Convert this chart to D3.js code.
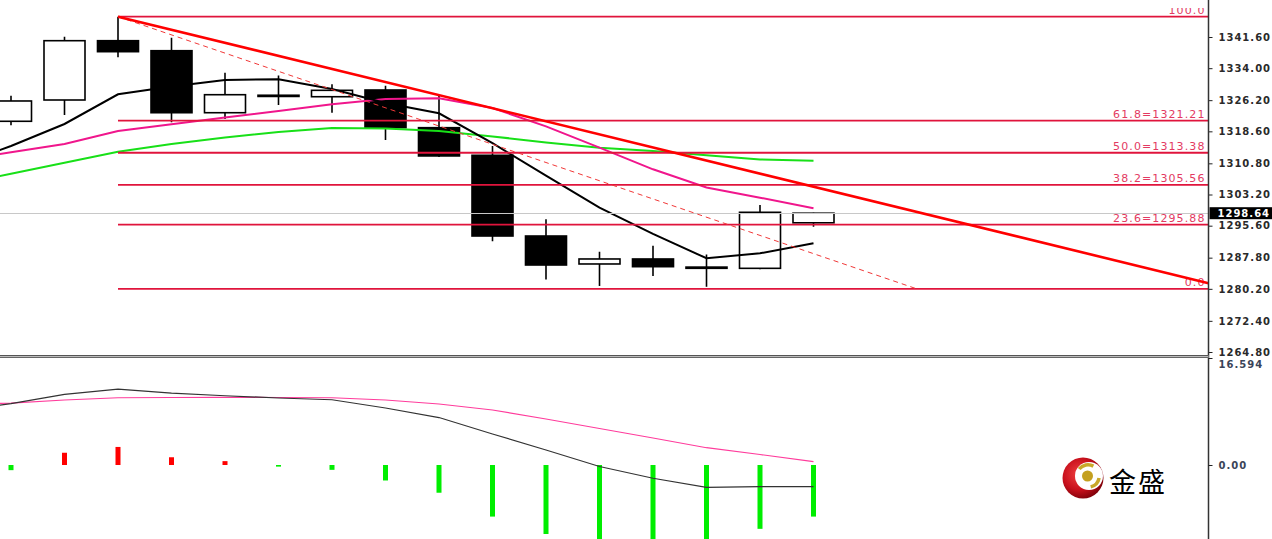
<!DOCTYPE html>
<html><head><meta charset="utf-8">
<script src="https://cdn.jsdelivr.net/npm/d3@7"></script>
<style>html,body{margin:0;padding:0;background:#fff;overflow:hidden}</style>
</head><body><svg id="c" width="1272" height="539"></svg>
<script>
// ---------- data ----------
const bars = ["K1","K2","K3","K4","K5","K6","K7","K8","K9","K10","K11","K12","K13","K14","K15","K16"];
const openV  = [1321.05,1326.24,1340.70,1338.26,1323.14,1327.40,1327.04,1328.68,1319.49,1312.76,1293.08,1286.26,1287.48,1285.50,1285.20,1296.30];
const highV  = [1327.30,1341.67,1346.56,1341.43,1332.90,1332.20,1330.07,1329.73,1327.20,1315.03,1297.15,1289.26,1290.70,1288.60,1300.64,1298.76];
const lowV   = [1320.10,1322.58,1336.65,1320.80,1321.60,1325.00,1323.14,1316.49,1312.35,1291.79,1282.50,1280.90,1283.30,1280.70,1284.96,1295.35];
const closeV = [1326.00,1340.70,1338.02,1323.14,1327.53,1327.20,1328.60,1319.49,1312.60,1293.08,1286.01,1287.48,1285.60,1285.30,1298.86,1298.64];
// moving averages: first value belongs to the bar just left of the visible area
const maFastV = [1310.30,1315.03,1320.39,1327.63,1329.53,1331.12,1331.29,1328.92,1325.51,1323.00,1315.71,1307.78,1299.98,1293.62,1287.65,1288.86,1291.30];
const maMidV  = [1311.50,1313.49,1315.51,1318.68,1320.32,1321.95,1323.58,1325.22,1326.48,1326.65,1324.29,1319.80,1314.63,1309.34,1304.91,1302.42,1299.84];
const maSlowV = [1305.54,1308.27,1310.95,1313.64,1315.51,1317.10,1318.44,1319.41,1319.29,1318.68,1317.37,1315.88,1314.61,1313.81,1312.78,1311.73,1311.44];
const priceTicks = [1341.60,1334.00,1326.20,1318.60,1310.80,1303.20,1295.60,1287.80,1280.20,1272.40,1264.80];
const fibLevels = [100, 61.8, 50.0, 38.2, 23.6, 0];
const fibLabels = ["100.0","61.8=1321.21","50.0=1313.38","38.2=1305.56","23.6=1295.88","0.0"];
const fibHigh = 1346.56, fibLow = 1280.20;
const fibBars = [2, 16.93];
const trendBars = [2, 8];
const trendValues = [1346.56, 1327.43];
const lastPrice = 1298.64;
const macdHist = [-0.8,1.9,2.8,1.2,0.6,-0.25,-0.75,-2.4,-4.3,-8.0,-10.7,-11.8,-12.5,-12.3,-9.9,-8.0];
const macdDif = [8.38,9.53,10.96,11.78,11.16,10.74,10.39,10.12,8.84,7.36,4.81,2.33,-0.23,-2.06,-3.46,-3.36,-3.36];
const macdDea = [9.38,9.61,10.08,10.43,10.47,10.50,10.47,10.43,10.08,9.46,8.53,7.13,5.66,4.19,2.68,1.63,0.51];
const macdTicks = [16.594, 0];
const macdTickLabels = ["16.594","0.00"];
const brand = "金盛";

// ---------- layout ----------
const svg = d3.select("#c");
const W = 1272, H = 539, axisX = 1208.5;
const mainTop = 8, mainBottom = 355, lowTop = 358;
const x = d3.scaleLinear().domain([0, 15]).range([11, 813.5]);
const y = d3.scaleLinear().domain([1264.8, 1341.6]).range([352, 37]);
const yl = d3.scaleLinear().domain([0, 16.594]).range([465, 358]);
const bodyW = 41;

svg.append("rect").attr("width", W).attr("height", H).attr("fill", "#fff");
const defs = svg.append("defs");
defs.append("clipPath").attr("id","cm").append("rect").attr("x",0).attr("y",mainTop).attr("width",axisX).attr("height",mainBottom-mainTop);
defs.append("clipPath").attr("id","cl").append("rect").attr("x",0).attr("y",lowTop).attr("width",axisX).attr("height",H-lowTop);

const gm = svg.append("g").attr("clip-path","url(#cm)");

// candles
const cd = bars.map((b,i)=>({i, o:openV[i], h:highV[i], l:lowV[i], c:closeV[i]}));
gm.selectAll("line.wick").data(cd).join("line")
  .attr("x1",d=>x(d.i)).attr("x2",d=>x(d.i))
  .attr("y1",d=>y(d.h)).attr("y2",d=>y(d.l))
  .attr("stroke","#000").attr("stroke-width",1.6);
gm.selectAll("rect.body").data(cd).join("rect")
  .attr("x",d=>x(d.i)-bodyW/2)
  .attr("y",d=>y(Math.max(d.o,d.c)))
  .attr("width",bodyW)
  .attr("height",d=>Math.max(1.2, Math.abs(y(d.o)-y(d.c))))
  .attr("fill",d=>d.c>=d.o ? "#fff" : "#000")
  .attr("stroke","#000").attr("stroke-width",1.6);

// moving averages
const maLine = d3.line().x((d,k)=>x(k-1)).y(d=>y(d));
gm.append("path").attr("d",maLine(maSlowV)).attr("fill","none").attr("stroke","#18e018").attr("stroke-width",2);
gm.append("path").attr("d",maLine(maMidV)).attr("fill","none").attr("stroke","#f0168c").attr("stroke-width",2);
gm.append("path").attr("d",maLine(maFastV)).attr("fill","none").attr("stroke","#000").attr("stroke-width",2);

// bid line
gm.append("line").attr("x1",0).attr("x2",axisX).attr("y1",Math.round(y(lastPrice))+0.5).attr("y2",Math.round(y(lastPrice))+0.5)
  .attr("stroke","#c8c8c8").attr("stroke-width",1);

// fibonacci
const fibVal = p => fibLow + (fibHigh - fibLow) * p / 100;
gm.selectAll("line.fib").data(fibLevels).join("line")
  .attr("x1",x(fibBars[0])).attr("x2",axisX)
  .attr("y1",d=>y(fibVal(d))).attr("y2",d=>y(fibVal(d)))
  .attr("stroke","#e0143c").attr("stroke-width",1.8);
gm.selectAll("text.fib").data(fibLevels).join("text")
  .attr("x",axisX-3).attr("y",d=>y(fibVal(d))-3)
  .attr("text-anchor","end")
  .attr("font-family","DejaVu Sans, Verdana, sans-serif").attr("font-size",11)
  .attr("letter-spacing",1.1)
  .attr("fill","#e33a62")
  .text((d,k)=>fibLabels[k]);
gm.append("line")
  .attr("x1",x(fibBars[0])).attr("y1",y(fibHigh))
  .attr("x2",x(fibBars[1])).attr("y2",y(fibLow))
  .attr("stroke","#f03838").attr("stroke-width",1).attr("stroke-dasharray","5,4");

// trend line (ray to the right edge)
const slope = (trendValues[1]-trendValues[0])/(trendBars[1]-trendBars[0]);
const endBar = x.invert(axisX);
gm.append("line")
  .attr("x1",x(trendBars[0])).attr("y1",y(trendValues[0]))
  .attr("x2",x(endBar)).attr("y2",y(trendValues[0]+slope*(endBar-trendBars[0])))
  .attr("stroke","#ff0000").attr("stroke-width",2.6);

// price axis
const ax = d3.axisRight(y).tickValues(priceTicks).tickFormat(d3.format(".2f")).tickSize(4).tickPadding(6);
const ga = svg.append("g").attr("transform",`translate(${axisX},0)`).call(ax);
ga.select(".domain").remove();
ga.selectAll("line").attr("stroke","#222");
ga.selectAll("text").attr("font-family","DejaVu Sans, Verdana, sans-serif").attr("font-size",10).attr("font-weight","bold")
  .attr("letter-spacing",1).attr("fill","#2a2a2a");

// current price tag
const py = y(lastPrice);
svg.append("rect").attr("x",axisX+1).attr("y",py-6).attr("width",W-axisX).attr("height",12).attr("fill","#000");
svg.append("text").attr("x",axisX+9).attr("y",py).attr("dy","0.35em")
  .attr("font-family","DejaVu Sans, Verdana, sans-serif").attr("font-size",10).attr("font-weight","bold")
  .attr("letter-spacing",1).attr("fill","#fff").text(d3.format(".2f")(lastPrice));

// axis line & separator
svg.append("line").attr("x1",axisX).attr("x2",axisX).attr("y1",0).attr("y2",H).attr("stroke","#333").attr("stroke-width",1.5);
svg.append("rect").attr("x",0).attr("y",mainBottom).attr("width",axisX).attr("height",3).attr("fill","#bbb");
svg.append("line").attr("x1",0).attr("x2",axisX).attr("y1",mainBottom+0.5).attr("y2",mainBottom+0.5).attr("stroke","#555");
svg.append("line").attr("x1",0).attr("x2",axisX).attr("y1",mainBottom+2.5).attr("y2",mainBottom+2.5).attr("stroke","#666");

// ---------- MACD panel ----------
const gl = svg.append("g").attr("clip-path","url(#cl)");
gl.selectAll("rect.h").data(macdHist).join("rect")
  .attr("x",(d,i)=>x(i)-2.5).attr("width",5)
  .attr("y",d=>d>=0 ? yl(d) : yl(0))
  .attr("height",d=>Math.abs(yl(d)-yl(0)))
  .attr("fill",d=>d>=0 ? "#ff0000" : "#00ee00");
const ml = d3.line().x((d,k)=>x(k-1)).y(d=>yl(d));
gl.append("path").attr("d",ml(macdDea)).attr("fill","none").attr("stroke","#ff3c9c").attr("stroke-width",1.2);
gl.append("path").attr("d",ml(macdDif)).attr("fill","none").attr("stroke","#333").attr("stroke-width",1.2);

const al = d3.axisRight(yl).tickValues(macdTicks).tickFormat((d,k)=>macdTickLabels[k]).tickSize(4).tickPadding(6);
const gal = svg.append("g").attr("transform",`translate(${axisX},0)`).call(al);
gal.select(".domain").remove();
gal.selectAll("line").attr("stroke","#222");
gal.selectAll("text").attr("font-family","DejaVu Sans, Verdana, sans-serif").attr("font-size",10).attr("font-weight","bold")
  .attr("letter-spacing",1).attr("fill","#3a4458");
gal.selectAll("text").filter(d=>d===16.594).attr("dy","0.9em");

// ---------- logo ----------
const rg = defs.append("radialGradient").attr("id","rg").attr("cx","0.4").attr("cy","0.4").attr("r","0.65");
rg.append("stop").attr("offset","0").attr("stop-color","#f04040");
rg.append("stop").attr("offset","0.6").attr("stop-color","#c8101c");
rg.append("stop").attr("offset","1").attr("stop-color","#7a0008");
const lg = svg.append("g").attr("transform","translate(1083,478)");
lg.append("circle").attr("r",20.5).attr("fill","url(#rg)");
lg.append("circle").attr("cx",6).attr("cy",-2).attr("r",14).attr("fill","#fff");
const arc = d3.arc().innerRadius(9.5).outerRadius(13);
lg.append("path").attr("transform","translate(5,-2)").attr("d",arc({startAngle:-0.9,endAngle:0.5})).attr("fill","#c9a82a");
lg.append("path").attr("transform","translate(5,-2)").attr("d",arc({startAngle:1.75,endAngle:2.9})).attr("fill","#c9a82a");
lg.append("circle").attr("cx",4.5).attr("cy",-2).attr("r",5.5).attr("fill","#c4a020");
svg.append("text").attr("x",1109).attr("y",492)
  .attr("font-family","Noto Sans CJK SC, sans-serif").attr("font-size",27).attr("fill","#000")
  .attr("letter-spacing",2).text(brand);
</script></body></html>
